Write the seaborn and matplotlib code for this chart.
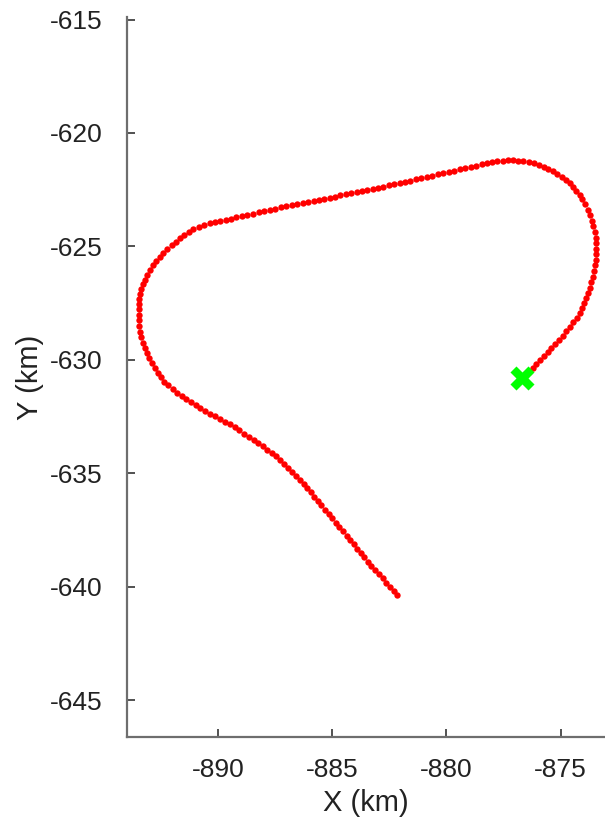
import numpy as np
import pandas as pd
import matplotlib
matplotlib.use("Agg")
import matplotlib.pyplot as plt
import seaborn as sns

# Trajectoire (km), points
x_km = [
    -882.15, -882.31, -882.47, -882.63, -882.79, -882.96, -883.12, -883.28,
    -883.44, -883.60, -883.75, -883.91, -884.06, -884.22, -884.37, -884.53, -884.68,
    -884.84, -885.00, -885.15, -885.31, -885.47, -885.62, -885.78, -885.94, -886.09,
    -886.25, -886.42, -886.59, -886.76, -886.93, -887.10,
    -887.27, -887.46, -887.65, -887.85, -888.04,
    -888.23, -888.44, -888.65, -888.85, -889.06,
    -889.27, -889.49, -889.70, -889.92, -890.13,
    -890.35, -890.56, -890.77, -890.97,
    -891.18, -891.38, -891.59,
    -891.79, -891.98, -892.17,
    -892.36, -892.50,
    -892.64, -892.77, -892.90,
    -893.03, -893.12, -893.21,
    -893.30, -893.36, -893.41, -893.44, -893.45,
    -893.46, -893.47, -893.47, -893.46, -893.43, -893.37, -893.30,
    -893.21, -893.09, -892.96,
    -892.84, -892.70, -892.55,
    -892.41, -892.22, -892.03, -891.85, -891.66, -891.47, -891.28,
    -891.09, -890.85, -890.60,
    -890.36, -890.13, -889.89, -889.66, -889.42,
    -889.19, -888.95, -888.71, -888.46, -888.22, -887.98,
    -887.74, -887.50, -887.25, -887.01, -886.77, -886.52,
    -886.28, -886.05, -885.81, -885.58, -885.34, -885.11, -884.87, -884.64, -884.40,
    -884.17, -883.93, -883.70, -883.46, -883.23, -882.99, -882.76, -882.52, -882.29,
    -882.05, -881.81, -881.57, -881.33, -881.09, -880.85, -880.61, -880.37, -880.13,
    -879.89, -879.65, -879.41, -879.17, -878.93,
    -878.69, -878.46, -878.23, -878.00, -877.77, -877.54, -877.31,
    -877.09, -876.86, -876.63, -876.40, -876.17, -875.95, -875.74, -875.54,
    -875.34, -875.14, -874.95, -874.77, -874.60, -874.45, -874.31,
    -874.17, -874.05, -873.93, -873.81, -873.71, -873.63,
    -873.56, -873.51, -873.47, -873.44, -873.44, -873.45,
    -873.47, -873.50, -873.54, -873.59, -873.66, -873.73,
    -873.81, -873.89, -873.98, -874.07, -874.17, -874.30, -874.45, -874.60,
    -874.75, -874.91, -875.08, -875.24, -875.40, -875.57, -875.73, -875.89, -876.06,
    -876.22, -876.37, -876.53, -876.68,
]
y_km = [
    -640.37, -640.19, -640.00, -639.82, -639.63, -639.45, -639.27, -639.08,
    -638.90, -638.71, -638.52, -638.33, -638.14, -637.94, -637.75, -637.56, -637.37,
    -637.18, -636.99, -636.80, -636.61, -636.42, -636.22, -636.03, -635.84, -635.65,
    -635.46, -635.28, -635.11, -634.93, -634.75, -634.58,
    -634.40, -634.25, -634.10, -633.96, -633.81,
    -633.66, -633.52, -633.38, -633.25, -633.11,
    -632.97, -632.85, -632.73, -632.61, -632.49,
    -632.37, -632.25, -632.13, -632.00,
    -631.88, -631.73, -631.59,
    -631.44, -631.28, -631.12,
    -630.96, -630.76,
    -630.56, -630.35, -630.14,
    -629.93, -629.71, -629.48,
    -629.26, -629.01, -628.76, -628.51, -628.26,
    -628.01, -627.78, -627.55, -627.32, -627.09, -626.87, -626.66,
    -626.47, -626.25, -626.03,
    -625.81, -625.64, -625.46,
    -625.29, -625.12, -624.95, -624.79, -624.62, -624.49, -624.36,
    -624.22, -624.14, -624.05,
    -623.97, -623.92, -623.87, -623.82, -623.77,
    -623.72, -623.66, -623.61, -623.55, -623.49, -623.44,
    -623.38, -623.33, -623.28, -623.24, -623.19, -623.14,
    -623.09, -623.04, -622.99, -622.94, -622.89, -622.85, -622.80, -622.75, -622.70,
    -622.65, -622.60, -622.55, -622.50, -622.45, -622.41, -622.36, -622.31, -622.26,
    -622.21, -622.16, -622.10, -622.05, -621.99, -621.93, -621.88, -621.82, -621.77,
    -621.71, -621.66, -621.60, -621.55, -621.49,
    -621.44, -621.38, -621.32, -621.27, -621.24, -621.22, -621.21,
    -621.21, -621.22, -621.25, -621.29, -621.34, -621.42, -621.50, -621.59,
    -621.69, -621.80, -621.93, -622.07, -622.22, -622.38, -622.55,
    -622.72, -622.93, -623.15, -623.38, -623.62, -623.87,
    -624.12, -624.36, -624.61, -624.85, -625.10, -625.34,
    -625.59, -625.84, -626.08, -626.33, -626.57, -626.82,
    -627.06, -627.28, -627.50, -627.72, -627.94, -628.15, -628.35, -628.55,
    -628.75, -628.93, -629.11, -629.29, -629.47, -629.65, -629.83, -630.01, -630.19,
    -630.37, -630.52, -630.66, -630.81,
]

# Position actuelle (marqueur vert)
pos_x = [-876.68]
pos_y = [-630.81]

x_ticks = [-890, -885, -880, -875]
y_ticks = [-645, -640, -635, -630, -625, -620, -615]

df = pd.DataFrame({"x": x_km, "y": y_km})
df_pos = pd.DataFrame({"x": pos_x, "y": pos_y})

sns.set_theme(style="ticks")
plt.rcParams["font.family"] = ["Liberation Sans", "DejaVu Sans"]

fig = plt.figure(figsize=(6.05, 8.24), dpi=100)
ax = fig.add_axes([0.2107, 0.1052, 0.7876, 0.8738])

sns.scatterplot(data=df, x="x", y="y", color="#ff0000", s=21, linewidth=0,
                ax=ax, zorder=3, legend=False)
sns.scatterplot(data=df_pos, x="x", y="y", color="#00ff00", marker="X", s=300,
                linewidth=0, ax=ax, zorder=4, legend=False)

ax.set_xlim(-893.96, -873.1)
ax.set_ylim(-646.64, -614.9)
ax.set_xticks(x_ticks)
ax.set_yticks(y_ticks)
ax.set_xticklabels([str(v) for v in x_ticks])
ax.set_yticklabels([str(v) for v in y_ticks])

sns.despine(ax=ax)
for side in ["left", "bottom"]:
    ax.spines[side].set_color("#6e6e6e")
    ax.spines[side].set_linewidth(1.6)
ax.tick_params(direction="in", length=6, width=1.2, color="#333333",
               labelsize=19, labelcolor="#222222")
ax.tick_params(axis="x", pad=15)
ax.tick_params(axis="y", pad=18)

ax.set_xlabel("X (km)", fontsize=21, color="#222222", labelpad=5)
ax.set_ylabel("Y (km)", fontsize=21, color="#222222", labelpad=4)

fig.savefig("out.png", dpi=100)
plt.close(fig)
